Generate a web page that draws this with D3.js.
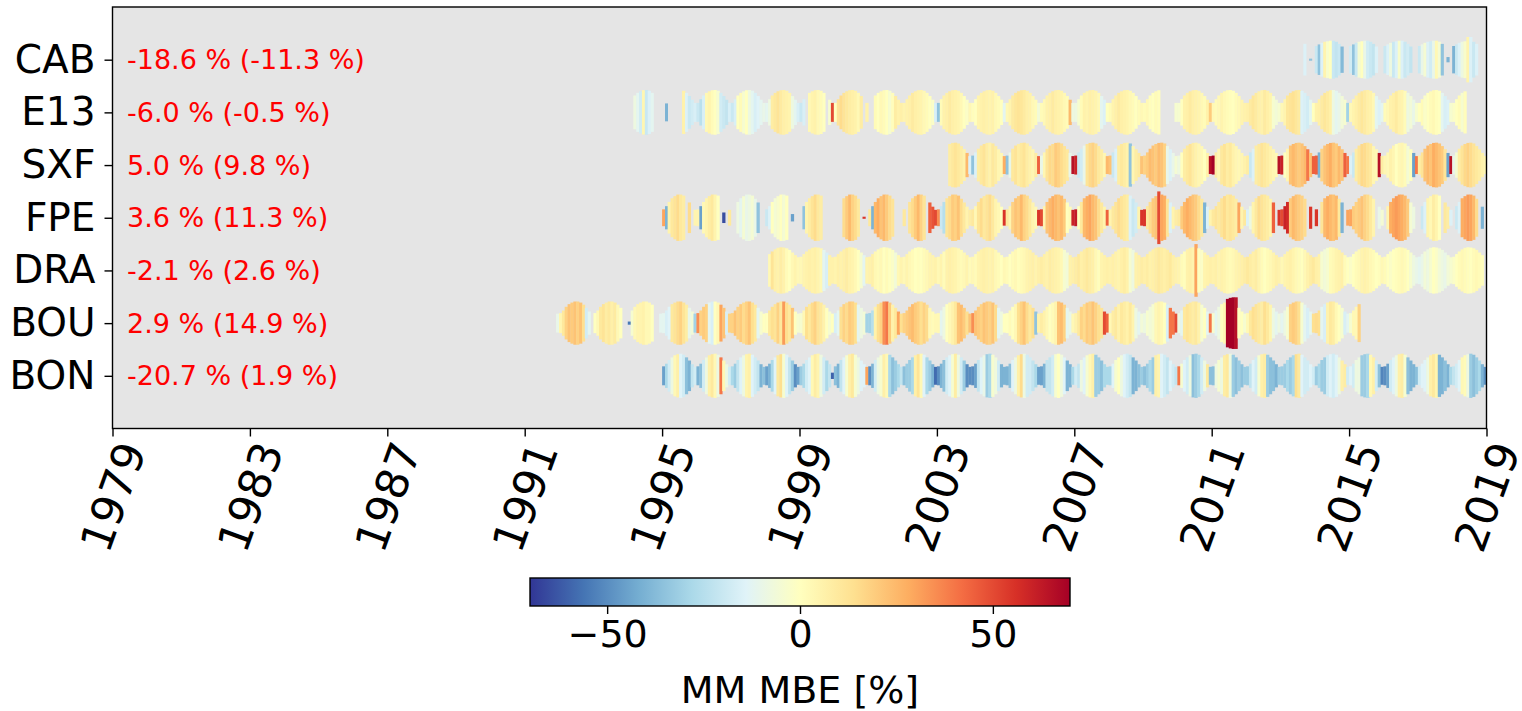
<!DOCTYPE html>
<html>
<head>
<meta charset="utf-8">
<title>MM MBE per station</title>
<script src="https://d3js.org/d3.v7.min.js"></script>
<style>
  body { margin: 0; background: #fff; }
  svg { font-family: "DejaVu Sans", sans-serif; }
</style>
</head>
<body>
<svg width="1522" height="711"></svg>
<script>
// stations, top row first
var stations = ["CAB", "E13", "SXF", "FPE", "DRA", "BOU", "BON"];
var summaries = ["-18.6 % (-11.3 %)", "-6.0 % (-0.5 %)", "5.0 % (9.8 %)", "3.6 % (11.3 %)",
                 "-2.1 % (2.6 %)", "2.9 % (14.9 %)", "-20.7 % (1.9 %)"];
var yearTicks = [1979, 1983, 1987, 1991, 1995, 1999, 2003, 2007, 2011, 2015, 2019];
var cbarTicks = [-50, 0, 50];

// first year of each station's record
var firstYear = [2013, 1994, 2003, 1995, 1998, 1991, 1995];

// monthly MBE [%], one row per year (Jan..Dec), null = no data
var CAB_mbe = [
  [null,null,null,null,null,null,null,null,-15,null,-35,null],
  [-20,-35,-15,5,-3,0,-20,-22,-20,-38,null,null],
  [-18,-35,-20,-5,0,-10,-18,-20,-22,-15,null,null],
  [-20,-15,-8,-20,-15,-3,-15,-20,-18,-22,null,null],
  [-20,-10,-5,-15,-18,-10,3,-5,-35,null,-40,null],
  [-40,-20,-15,-8,-3,5,-15,-20,-15]
];
var E13_mbe = [
  [null,null,-8,-12,-18,4,-20,-15,-12,null,null,null],
  [null,-40,null,null,null,null,null,6,-15,-20,-18,-16],
  [-20,-24,-16,3,5,2,0,-4,-18,-20,-22,-16],
  [-20,-16,0,2,-4,0,-8,-12,-16,-14,-12,-10],
  [-12,-8,8,10,12,9,7,6,5,-8,-12,-16],
  [-20,-16,null,3,5,6,3,2,0,null,-4,50],
  [0,12,15,12,10,8,7,6,3,8,null,6],
  [null,null,2,0,3,2,0,-4,1,8,6,7],
  [5,6,7,9,7,6,5,3,2,0,-2,-16],
  [-35,2,6,7,9,7,6,5,3,0,-2,3],
  [1,0,5,6,7,6,5,6,3,2,0,-12],
  [3,5,9,11,12,11,9,7,6,3,2,-6],
  [2,3,6,7,9,7,6,5,3,2,25,-8],
  [-8,-4,2,6,5,7,6,5,3,-12,-15,0],
  [2,5,7,9,7,6,5,3,2,0,2,3],
  [2,3,1,0,2,1,null,null,null,null,null,-4],
  [-4,0,6,7,9,7,6,5,3,2,6,20],
  [3,2,3,5,3,2,1,0,2,3,5,6],
  [7,9,11,9,7,6,9,7,5,-4,-6,-4],
  [3,5,11,12,13,11,9,-15,-16,-18,-12,0],
  [6,7,9,11,9,7,-8,-12,-10,-6,-4,-30],
  [3,5,7,9,11,9,7,6,3,-12,-15,-12],
  [2,3,6,7,9,6,5,2,-8,-6,-10,-4],
  [0,2,-2,0,2,3,1,0,-12,-16,-15,-4],
  [-2,0,2,-4,1]
];
var SXF_mbe = [
  [null,null,null,null,8,10,12,10,8,6,25,-15],
  [-35,-15,8,10,12,8,6,10,8,4,3,28],
  [-35,-10,10,12,8,10,12,8,6,4,8,45],
  [-10,4,12,16,15,20,18,15,12,10,-10,65],
  [60,-20,-18,-10,12,16,18,15,10,8,4,25],
  [22,-20,-15,8,10,8,6,-35,4,8,10,22],
  [18,20,24,22,20,24,22,18,-10,-15,-10,-5],
  [-8,0,8,10,12,8,6,4,3,0,6,65],
  [70,8,4,10,12,8,10,6,4,3,4,6],
  [8,-20,-15,8,10,12,10,8,6,4,3,65],
  [60,0,4,22,25,22,20,22,25,40,22,45],
  [45,-40,18,22,25,28,22,20,25,22,45,40],
  [-15,-20,8,12,16,15,12,10,4,3,65,8],
  [4,3,6,4,0,3,4,2,-5,0,-45,40],
  [8,12,22,25,22,28,25,22,20,12,-45,65],
  [-10,-5,8,12,16,18,15,12,10,8,6,4]
];
var FPE_mbe = [
  [30,-40,5,10,12,15,10,8,null,15,null,5],
  [5,-45,3,5,8,10,5,0,null,-65,null,10],
  [null,null,-8,-12,-5,-10,-8,-5,-10,-35,null,null],
  [-20,-15,0,-5,-3,0,-5,0,null,-45,null,null],
  [null,-35,5,8,12,15,10,8,null,null,null,null],
  [null,null,null,15,20,25,18,15,10,null,55,null],
  [10,-40,25,28,22,25,20,15,12,null,null,null],
  [10,null,12,15,20,25,18,12,null,45,48,50],
  [35,-20,-25,12,15,20,18,22,15,10,5,8],
  [10,3,12,15,10,12,15,10,5,3,0,55],
  [10,5,18,22,20,25,18,15,10,5,3,55],
  [50,5,22,25,28,25,22,25,20,0,2,60],
  [62,0,10,25,28,30,25,22,15,10,5,45],
  [5,10,12,15,12,10,8,-15,-20,-18,5,55],
  [55,10,15,20,22,50,30,28,12,-15,5,8],
  [10,20,25,28,25,22,20,15,10,-40,-15,5],
  [10,12,10,12,15,10,12,10,8,30,5,10],
  [-15,-8,5,10,15,12,10,8,5,45,null,55],
  [50,60,58,20,25,22,20,18,15,null,55,null],
  [55,null,12,25,28,25,22,25,10,-40,null,30],
  [30,20,18,20,22,18,15,10,5,null,-10,-5],
  [null,5,28,30,32,30,28,25,20,-5,-8,null],
  [null,-20,-15,5,3,8,5,0,null,10,8,-15],
  [null,-20,-15,28,30,32,30,25,15,null,-40,null]
];
var DRA_mbe = [
  [null,3,12,7,6,8,6,2,0,3,5,3],
  [3,5,6,7,6,7,5,3,-12,-16,6,6],
  [5,7,6,7,8,6,5,3,0,-4,-12,5],
  [6,7,3,2,3,0,2,0,-2,-6,3,5],
  [3,5,3,2,0,1,0,2,3,5,5,6],
  [3,5,2,6,7,6,5,3,2,3,5,2],
  [3,2,5,6,7,6,5,6,3,2,0,3],
  [2,0,2,3,1,2,3,5,6,7,5,7],
  [8,7,6,8,7,6,5,3,-4,-6,6,7],
  [8,10,7,8,10,8,7,3,1,5,6,7],
  [6,7,6,5,7,8,6,-4,-8,6,7,8],
  [7,8,6,7,8,10,8,7,8,10,7,6],
  [5,2,1,6,7,5,30,0,-2,5,6,7],
  [6,7,5,6,5,3,2,3,5,6,7,8],
  [10,8,7,8,5,2,0,2,3,5,7,6],
  [3,5,6,7,5,3,2,0,3,6,8,10],
  [7,6,-4,-6,-4,2,3,5,6,7,2,0],
  [-2,0,2,3,5,6,5,3,2,0,1,3],
  [2,0,-2,0,1,2,3,2,0,-4,-8,-10],
  [-12,-10,-6,-8,-4,0,-2,-6,-8,-10,-6,-4],
  [-2,0,2,3,2,1,0,2,3,2,1]
];
var BOU_mbe = [
  [null,null,null,null,null,null,null,null,null,null,null,-10],
  [4,10,18,22,20,22,18,22,14,-18,-12,null],
  [0,3,10,12,8,10,7,9,3,0,null,null],
  [-55,-4,3,5,5,6,3,3,0,null,null,-12],
  [-12,-16,-14,10,12,15,18,12,8,-10,-6,-30],
  [35,18,20,18,-12,-16,0,3,30,22,-16,18],
  [18,22,18,20,15,18,22,14,10,-12,-4,0],
  [0,10,14,12,18,10,32,14,10,22,0,-4],
  [-4,3,14,10,15,18,12,10,6,0,-4,0],
  [-16,-12,14,18,15,20,18,14,-12,-8,-6,-30],
  [-30,-25,6,14,18,35,40,20,6,10,30,14],
  [18,20,22,24,20,18,14,18,15,3,2,3],
  [3,-12,-8,0,3,6,10,22,24,20,14,22],
  [35,22,20,18,22,20,18,22,15,-12,-8,0],
  [0,2,0,3,14,18,22,15,10,14,-35,6],
  [8,6,3,0,2,5,22,24,18,-12,-10,3],
  [6,10,18,15,20,18,22,18,14,12,50,45],
  [3,8,10,6,10,8,6,10,5,-8,-12,-6],
  [-8,-4,-6,-4,3,5,3,0,-16,40,40,50],
  [-8,-12,10,12,10,8,10,6,-4,0,-12,40],
  [-4,-12,-8,0,3,70,70,70,65,0,0,-4],
  [3,10,14,12,10,8,14,10,5,-8,-12,-8],
  [-12,-8,-4,18,20,18,14,-4,-12,-16,-12,14],
  [15,14,-12,-16,6,10,8,3,0,-4,-16,-12],
  [-4,3,3,18]
];
var BON_mbe = [
  [-45,-28,-18,-8,3,7,-14,-18,-36,-40,-22,-18],
  [-40,-36,-18,-8,7,10,3,-8,40,3,-8,-18],
  [-28,-32,-22,-14,-8,5,7,-14,-18,-22,-40,-36],
  [-45,-40,-28,-14,10,14,-4,-14,-22,-32,-50,-45],
  [-32,-28,-18,-14,3,8,5,-8,-18,-28,-22,-60],
  [-36,-40,-22,-14,-4,7,10,-4,-8,-14,-14,30],
  [-50,-40,-18,-8,-4,7,3,-28,-36,-32,-28,-22],
  [-36,-32,-32,-28,7,12,3,-14,-28,-32,-40,-58],
  [-50,-40,-36,-18,-14,-4,8,-8,-18,-32,-50,-50],
  [-50,-45,-22,-14,-10,-32,-28,-4,-7,-18,-40,-40],
  [-40,-36,-14,-8,7,15,-8,-18,-18,-22,-28,-45],
  [-45,-40,-22,-22,-18,-4,0,-7,-14,-40,-40,-28],
  [-18,-22,-8,-14,-4,3,7,-32,-32,-36,-28,-28],
  [-28,-14,-4,0,-8,-14,-18,-22,-40,-40,-36,-32],
  [-36,-32,-28,-32,7,5,-14,-18,-22,-14,-18,-22],
  [40,-4,-14,-18,-8,-36,-32,-28,-18,-8,10,-36],
  [-36,-8,-4,-8,8,10,-8,-32,-36,-32,-36,-32],
  [-32,-22,-14,-18,-4,7,8,-32,-36,-36,-40,-32],
  [-32,-32,-28,-32,-28,14,10,-14,-18,-18,-14,-18],
  [-32,-28,-32,-32,-18,-14,-18,-14,-8,7,8,-18],
  [-14,-18,-8,-8,-32,-32,-28,3,7,-18,-36,-52],
  [-50,-45,-18,-14,-8,7,8,-4,-36,-40,-40,-36],
  [-18,-14,-14,-8,7,10,5,-40,-40,-36,-40,-28],
  [-22,-18,-14,3,2,-8,-32,-36,-32,-28,-40,-48]
];
var mbeByStation = [CAB_mbe, E13_mbe, SXF_mbe, FPE_mbe, DRA_mbe, BOU_mbe, BON_mbe];

// typical bar height per calendar month (fraction of row spacing)
var CAB_h = [0.52,0.58,0.64,0.68,0.70,0.72,0.72,0.68,0.60,0.50,0.10,0.05];
var E13_h = [0.36,0.50,0.64,0.74,0.80,0.84,0.85,0.82,0.74,0.62,0.48,0.36];
var SXF_h = [0.36,0.48,0.62,0.74,0.80,0.84,0.85,0.82,0.72,0.60,0.46,0.34];
var FPE_h = [0.32,0.44,0.60,0.74,0.82,0.88,0.88,0.84,0.72,0.58,0.42,0.30];
var DRA_h = [0.52,0.62,0.72,0.80,0.86,0.88,0.87,0.84,0.78,0.68,0.58,0.50];
var BOU_h = [0.38,0.48,0.62,0.72,0.78,0.82,0.82,0.78,0.70,0.58,0.44,0.36];
var BON_h = [0.36,0.46,0.60,0.70,0.78,0.82,0.84,0.80,0.70,0.58,0.44,0.34];
var heightByStation = [CAB_h, E13_h, SXF_h, FPE_h, DRA_h, BOU_h, BON_h];

// months whose bar is clearly shorter / taller than usual: station, year, month, height
var heightOverrides = [
  ["CAB", 2013, 11, 0.04], ["CAB", 2018, 6, 0.86], ["CAB", 2018, 7, 0.86],
  ["E13", 1995, 2, 0.34], ["BOU", 1994, 1, 0.06], ["FPE", 1996, 10, 0.2],
  ["FPE", 1998, 10, 0.14], ["FPE", 2000, 11, 0.04], ["BON", 1999, 12, 0.12],
  ["DRA", 2010, 7, 1.0], ["FPE", 2009, 6, 1.0],
  ["BOU", 2011, 6, 0.92], ["BOU", 2011, 7, 0.96], ["BOU", 2011, 8, 0.98], ["BOU", 2011, 9, 0.98]
];

var svg = d3.select("svg");

var x = d3.scaleUtc()
  .domain([Date.UTC(1979, 0, 1), Date.UTC(2019, 0, 1)])
  .range([112.5, 1486.5]);
var y = d3.scaleLinear().domain([-1, 7]).range([428.5, 7]);
var rowY = function(i) { return y(6 - i); };
var unit = y(0) - y(1);

var cmap = ["#313695","#4575b4","#74add1","#abd9e9","#e0f3f8","#ffffbf",
            "#fee090","#fdae61","#f46d43","#d73027","#a50026"];
var color = d3.scaleLinear()
  .domain(d3.range(11).map(function(k) { return -70 + 14 * k; }))
  .range(cmap)
  .clamp(true);

// background of the axes
svg.append("rect")
  .attr("x", x.range()[0]).attr("y", y(7))
  .attr("width", x.range()[1] - x.range()[0])
  .attr("height", y(-1) - y(7))
  .attr("fill", "#e5e5e5");

// build month records
var months = [];
stations.forEach(function(st, i) {
  mbeByStation[i].forEach(function(row, yi) {
    var yr = firstYear[i] + yi;
    row.forEach(function(v, m) {
      if (v === null || v === undefined) return;
      var h = heightByStation[i][m];
      heightOverrides.forEach(function(o) {
        if (o[0] === st && o[1] === yr && o[2] === m + 1) h = o[3];
      });
      months.push({ row: i, year: yr, month: m, value: v, h: h });
    });
  });
});

svg.append("g").selectAll("rect")
  .data(months)
  .join("rect")
  .attr("x", function(d) { return x(Date.UTC(d.year, d.month, 1)); })
  .attr("width", function(d) {
    return x(Date.UTC(d.year, d.month + 1, 1)) - x(Date.UTC(d.year, d.month, 1)) + 0.35;
  })
  .attr("y", function(d) { return rowY(d.row) - d.h * unit / 2; })
  .attr("height", function(d) { return d.h * unit; })
  .attr("fill", function(d) { return color(d.value); });

// summary annotations
svg.append("g").selectAll("text")
  .data(summaries)
  .join("text")
  .attr("x", 127)
  .attr("y", function(d, i) { return rowY(i); })
  .attr("dominant-baseline", "central")
  .attr("font-size", 27)
  .attr("fill", "#ff0000")
  .text(function(d) { return d; });

// frame
svg.append("rect")
  .attr("x", x.range()[0]).attr("y", y(7))
  .attr("width", x.range()[1] - x.range()[0])
  .attr("height", y(-1) - y(7))
  .attr("fill", "none").attr("stroke", "#000").attr("stroke-width", 1.4);

// y axis
var yAxis = svg.append("g")
  .attr("transform", "translate(" + x.range()[0] + ",0)")
  .call(d3.axisLeft(d3.scaleLinear().domain([0, 6]).range([rowY(0), rowY(6)]))
    .tickValues(d3.range(7))
    .tickSize(8).tickPadding(9)
    .tickFormat(function(i) { return stations[i]; }));
yAxis.select(".domain").remove();
yAxis.selectAll("line").attr("stroke-width", 1.4);
yAxis.selectAll("text").attr("font-size", 39).attr("font-family", "DejaVu Sans").attr("fill", "#000");

// x axis
var xAxis = svg.append("g")
  .attr("transform", "translate(0," + y(-1) + ")")
  .call(d3.axisBottom(x)
    .tickValues(yearTicks.map(function(t) { return new Date(Date.UTC(t, 0, 1)); }))
    .tickSize(8)
    .tickFormat(d3.utcFormat("%Y")));
xAxis.select(".domain").remove();
xAxis.selectAll("line").attr("stroke-width", 1.4);
xAxis.selectAll(".tick").each(function(d) {
  var g = d3.select(this);
  var label = g.select("text").text();
  g.select("text").remove();
  var inner = g.append("g");
  inner.append("text")
    .attr("transform", "rotate(-70)")
    .attr("text-anchor", "middle")
    .attr("dominant-baseline", "central")
    .attr("font-size", 44)
    .attr("font-family", "DejaVu Sans")
    .attr("fill", "#000")
    .text(label);
  var bb = inner.node().getBBox();
  inner.attr("transform", "translate(" + (-(bb.x + bb.width / 2)) + "," + (7 - bb.y) + ")");
});

// colorbar
var cb = { x0: 530, x1: 1070, y0: 578, y1: 606 };
var cx = d3.scaleLinear().domain([-70, 70]).range([cb.x0, cb.x1]);
var grad = svg.append("defs").append("linearGradient")
  .attr("id", "cbgrad").attr("x1", "0%").attr("x2", "100%");
grad.selectAll("stop")
  .data(cmap)
  .join("stop")
  .attr("offset", function(d, k) { return (k * 10) + "%"; })
  .attr("stop-color", function(d) { return d; });
svg.append("rect")
  .attr("x", cb.x0).attr("y", cb.y0)
  .attr("width", cb.x1 - cb.x0).attr("height", cb.y1 - cb.y0)
  .attr("fill", "url(#cbgrad)")
  .attr("stroke", "#000").attr("stroke-width", 1.4);
var cAxis = svg.append("g")
  .attr("transform", "translate(0," + cb.y1 + ")")
  .call(d3.axisBottom(cx).tickValues(cbarTicks).tickSize(8).tickPadding(6)
    .tickFormat(function(d) { return d < 0 ? "\u2212" + Math.abs(d) : d; }));
cAxis.select(".domain").remove();
cAxis.selectAll("line").attr("stroke-width", 1.4);
cAxis.selectAll("text").attr("font-size", 38).attr("font-family", "DejaVu Sans").attr("fill", "#000");

svg.append("text")
  .attr("x", (cb.x0 + cb.x1) / 2).attr("y", 703)
  .attr("text-anchor", "middle")
  .attr("font-size", 38)
  .text("MM MBE [%]");
</script>
</body>
</html>
